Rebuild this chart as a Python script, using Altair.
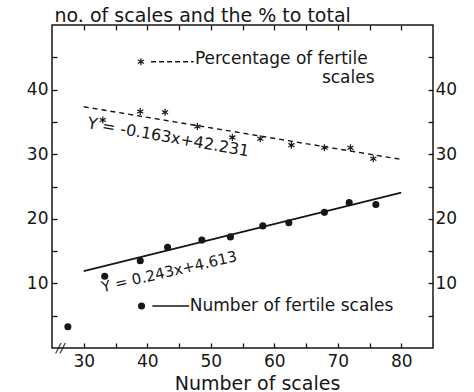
import altair as alt
import pandas as pd

# ---- data ----
num_x = [27.5, 33.3, 38.9, 43.2, 48.6, 53.1, 58.2, 62.3, 67.9, 71.8, 76.0]
num_y = [3.3, 11.1, 13.5, 15.6, 16.7, 17.2, 18.9, 19.4, 21.0, 22.5, 22.2]
pct_x = [33.0, 38.9, 42.8, 47.9, 53.4, 57.8, 62.7, 67.9, 72.0, 75.6]
pct_y = [35.3, 36.6, 36.5, 34.3, 32.6, 32.4, 31.4, 31.0, 31.0, 29.3]
fit_x = [30, 80]
num_fit = [11.9, 24.05]   # Y = 0.243x + 4.613
pct_fit = [37.34, 29.19]  # Y = -0.163x + 42.231
x_ticks = [30, 35, 40, 45, 50, 55, 60, 65, 70, 75, 80]
y_ticks = [5, 10, 15, 20, 25, 30, 35, 40, 45]

FONT = "DejaVu Sans"
INK = "#161616"

xs = alt.Scale(domain=[25, 85], nice=False, zero=False)
ys = alt.Scale(domain=[0, 50], nice=False, zero=False)

num_df = pd.DataFrame({"x": num_x, "y": num_y})
pct_df = pd.DataFrame({"x": pct_x, "y": pct_y})
fit_df = pd.DataFrame({"x": fit_x, "num": num_fit, "pct": pct_fit})

lab_expr = "datum.value % 10 == 0 ? datum.label : ''"

x_bottom = alt.Axis(orient="bottom", values=x_ticks, labelExpr=lab_expr, offset=-5,
                    tickSize=5, domain=False, grid=False, labelPadding=5,
                    labelFontSize=17, labelFont=FONT, labelColor=INK, tickColor=INK,
                    tickWidth=1.3, title="Number of scales", titleFont=FONT,
                    titleFontSize=19, titleFontWeight="normal", titleColor=INK,
                    titleX=205, titleY=46, titleBaseline="alphabetic")
y_left = alt.Axis(orient="left", values=y_ticks, labelExpr=lab_expr, offset=-5,
                  tickSize=5, domain=False, grid=False, labelPadding=4,
                  labelFontSize=17, labelFont=FONT, labelColor=INK, tickColor=INK,
                  tickWidth=1.3, title=None)
x_top = alt.Axis(orient="top", values=x_ticks, labels=False, offset=-5, tickSize=5,
                 domain=False, grid=False, tickColor=INK, tickWidth=1.3, title=None)
y_right = alt.Axis(orient="right", values=y_ticks, labelExpr=lab_expr, offset=-5,
                   tickSize=5, domain=False, grid=False, labelPadding=2,
                   labelFontSize=17, labelFont=FONT, labelColor=INK, tickColor=INK,
                   tickWidth=1.3, title=None)

asterisk = "M0,-1L0,1M-0.866,-0.5L0.866,0.5M-0.866,0.5L0.866,-0.5"


def X(field="x"):
    return alt.X(f"{field}:Q", scale=xs, axis=None)


def Y(field="y"):
    return alt.Y(f"{field}:Q", scale=ys, axis=None)


pct_line = alt.Chart(fit_df).mark_line(color=INK, strokeWidth=1.4, strokeDash=[5, 4]).encode(
    x=alt.X("x:Q", scale=xs, axis=x_bottom),
    y=alt.Y("pct:Q", scale=ys, axis=y_left),
)
num_line = alt.Chart(fit_df).mark_line(color=INK, strokeWidth=1.6).encode(x=X(), y=Y("num"))
num_pts = alt.Chart(num_df).mark_point(filled=True, color=INK, size=50, opacity=1).encode(
    x=alt.X("x:Q", scale=xs, axis=x_top),
    y=alt.Y("y:Q", scale=ys, axis=y_right),
)
pct_pts = alt.Chart(pct_df).mark_point(shape=asterisk, filled=False, color=INK, size=50,
                                       strokeWidth=1.2, opacity=1).encode(x=X(), y=Y())

# legend (drawn inside the plot like the original)
leg_sym_pct = pd.DataFrame({"x": [39.0], "y": [44.3]})
leg_sym_num = pd.DataFrame({"x": [39.1], "y": [6.5]})
leg_rule = pd.DataFrame({"x": [40.6, 40.8], "x2": [47.3, 46.6], "y": [44.3, 6.5],
                         "k": ["pct", "num"]})
leg_text = pd.DataFrame({
    "x": [47.5, 46.7],
    "y": [44.8, 6.5],
    "text": ["Percentage of fertile", "Number of fertile scales"],
})
leg_text2 = pd.DataFrame({"x": [75.8], "y": [41.8], "text": ["scales"]})

leg_a = alt.Chart(leg_sym_pct).mark_point(shape=asterisk, filled=False, color=INK, size=50,
                                          strokeWidth=1.2, opacity=1).encode(x=X(), y=Y())
leg_b = alt.Chart(leg_sym_num).mark_point(filled=True, color=INK, size=50,
                                          opacity=1).encode(x=X(), y=Y())
leg_r1 = alt.Chart(leg_rule).transform_filter("datum.k == 'pct'").mark_rule(
    color=INK, strokeWidth=1.4, strokeDash=[5, 3]).encode(x=X(), x2="x2:Q", y=Y())
leg_r2 = alt.Chart(leg_rule).transform_filter("datum.k == 'num'").mark_rule(
    color=INK, strokeWidth=1.6).encode(x=X(), x2="x2:Q", y=Y())
leg_t = alt.Chart(leg_text).mark_text(align="left", baseline="middle", font=FONT,
                                      fontSize=17, color=INK).encode(
    x=X(), y=Y(), text="text:N")
leg_t2 = alt.Chart(leg_text2).mark_text(align="right", baseline="middle", font=FONT,
                                        fontSize=17, color=INK).encode(
    x=X(), y=Y(), text="text:N")

# regression equations
eq_pct = pd.DataFrame({"x": [30.6], "y": [34.8], "text": ["Y = -0.163x+42.231"]})
eq_num = pd.DataFrame({"x": [32.8], "y": [9.4], "text": ["Y = 0.243x+4.613"]})
eq1 = alt.Chart(eq_pct).mark_text(align="left", baseline="middle", font=FONT, fontSize=16,
                                  color=INK, angle=10).encode(x=X(), y=Y(), text="text:N")
eq2 = alt.Chart(eq_num).mark_text(align="left", baseline="middle", font=FONT, fontSize=15,
                                  color=INK, angle=347).encode(x=X(), y=Y(), text="text:N")

# axis break mark
brk = pd.DataFrame({"x": [26.3], "y": [0.0], "text": ["//"]})
brk_t = alt.Chart(brk).mark_text(align="center", baseline="middle", font=FONT, fontSize=13,
                                 color=INK, fontStyle="italic").encode(
    x=X(), y=Y(), text="text:N")

# chart title, written just above the frame's top-left corner
ttl = pd.DataFrame({"x": [25.4], "y": [50.0], "text": ["no. of scales and the % to total"]})
ttl_t = alt.Chart(ttl).mark_text(align="left", baseline="alphabetic", dy=-3, font=FONT,
                                 fontSize=19, color=INK).encode(x=X(), y=Y(), text="text:N")

chart = alt.layer(
    pct_line, num_line, num_pts, pct_pts, leg_a, leg_b, leg_r1, leg_r2, leg_t, leg_t2,
    eq1, eq2, brk_t, ttl_t,
).resolve_axis(x="independent", y="independent").properties(
    width=381, height=323,
    autosize=alt.AutoSizeParams(type="none"),
    padding={"left": 52, "top": 25, "right": 41, "bottom": 44},
    background="white",
).configure_view(stroke=INK, strokeWidth=1.5)

chart.save("out.html", embed_options={"renderer": "svg", "actions": False})
